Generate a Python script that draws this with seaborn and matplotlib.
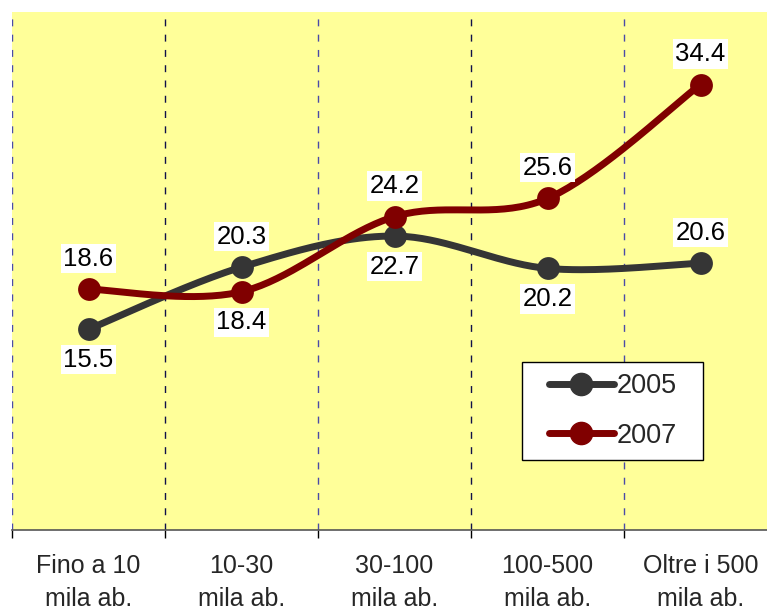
import numpy as np
import pandas as pd
import matplotlib
matplotlib.use("Agg")
import matplotlib.pyplot as plt
from matplotlib.lines import Line2D
from matplotlib.patches import Rectangle
import seaborn as sns

categories = ["Fino a 10\nmila ab.", "10-30\nmila ab.", "30-100\nmila ab.",
              "100-500\nmila ab.", "Oltre i 500\nmila ab."]
values_2005 = [15.5, 20.3, 22.7, 20.2, 20.6]
values_2007 = [18.6, 18.4, 24.2, 25.6, 34.4]
label_side_2005 = [-1, 1, -1, -1, 1]
label_side_2007 = [1, -1, 1, 1, 1]

series = {"2005": (values_2005, "#353535", label_side_2005),
          "2007": (values_2007, "#800000", label_side_2007)}

sns.set_theme(style="white")
plt.rcParams["font.family"] = ["Liberation Sans", "DejaVu Sans"]

fig = plt.figure(figsize=(7.67, 6.08), dpi=100)
W, H = 767, 608
ax = fig.add_axes([12 / W, (H - 530) / H, 765 / W, 518 / H])
ax.set_facecolor("#FFFF99")


def smooth(xs, ys, n=40, t=1 / 6):
    """Cardinal-spline (Bezier) smoothing between consecutive points."""
    P = np.column_stack([np.asarray(xs, float), np.asarray(ys, float)])
    out = []
    for i in range(len(P) - 1):
        p0 = P[i - 1] if i > 0 else P[i]
        p1, p2 = P[i], P[i + 1]
        p3 = P[i + 2] if i + 2 < len(P) else P[i + 1]
        c1 = p1 + (p2 - p0) * t
        c2 = p2 - (p3 - p1) * t
        s = np.linspace(0, 1, n)[:, None]
        seg = ((1 - s) ** 3) * p1 + 3 * ((1 - s) ** 2) * s * c1 + 3 * (1 - s) * s ** 2 * c2 + s ** 3 * p2
        out.append(seg if i == 0 else seg[1:])
    return np.vstack(out)


x_pos = np.arange(len(categories))
handles = []
for name, (vals, color, sides) in series.items():
    curve = smooth(x_pos, vals)
    df = pd.DataFrame({"x": curve[:, 0], "y": curve[:, 1]})
    sns.lineplot(data=df, x="x", y="y", sort=False, color=color, linewidth=5,
                 ax=ax, solid_capstyle="round", zorder=3)
    pts = pd.DataFrame({"x": x_pos, "y": vals})
    sns.scatterplot(data=pts, x="x", y="y", color=color, s=270, edgecolor=color,
                    linewidth=0, ax=ax, zorder=4)
    for xi, v, sd in zip(x_pos, vals, sides):
        ax.annotate(f"{v:.1f}", (xi, v), xytext=(0, 22 * sd), textcoords="offset points",
                    ha="center", va="center", fontsize=18.5, color="black", zorder=5,
                    bbox=dict(boxstyle="square,pad=0.1", fc="white", ec="none"))
    handles.append(Line2D([], [], color=color, linewidth=5, marker="o",
                          markersize=16, solid_capstyle="round", label=name))

# category boundaries
for i, b in enumerate(np.arange(-0.5, len(categories), 1.0)):
    col = "#4a4aa8" if i % 2 == 0 else "#10104a"
    ax.axvline(b, color=col, linewidth=1.0, linestyle=(0, (5, 6)), zorder=1)

ax.set_xlim(-0.5, len(categories) - 0.5)
ax.set_ylim(0, 40)
ax.set_xticks(x_pos)
ax.set_xticklabels(categories, fontsize=18, linespacing=1.5)
ax.set_xticks(np.arange(-0.5, len(categories), 1.0), minor=True)
ax.tick_params(axis="x", which="major", length=0, pad=17)
ax.tick_params(axis="x", which="minor", length=6, width=1, color="black", direction="out", bottom=True)
ax.set_yticks([])
ax.set_xlabel("")
ax.set_ylabel("")
for s in ["top", "right", "left"]:
    ax.spines[s].set_visible(False)
ax.spines["bottom"].set_color("#555555")
ax.spines["bottom"].set_linewidth(1.2)

# legend box
box = Rectangle(((522 - 12) / 765, (530 - 460) / 518), 181 / 765, 98 / 518,
                transform=ax.transAxes, facecolor="white", edgecolor="black",
                linewidth=1.0, zorder=6)
ax.add_patch(box)
leg = ax.legend(handles=handles, loc="center",
                bbox_to_anchor=((522 - 12 + 181 / 2) / 765, (530 - 411) / 518),
                fontsize=19.5, frameon=False,
                handlelength=2.4, handletextpad=0.1, borderpad=0, labelspacing=0.85,
                borderaxespad=0)
leg.set_zorder(7)

fig.savefig("out.png", dpi=100, facecolor="white")
